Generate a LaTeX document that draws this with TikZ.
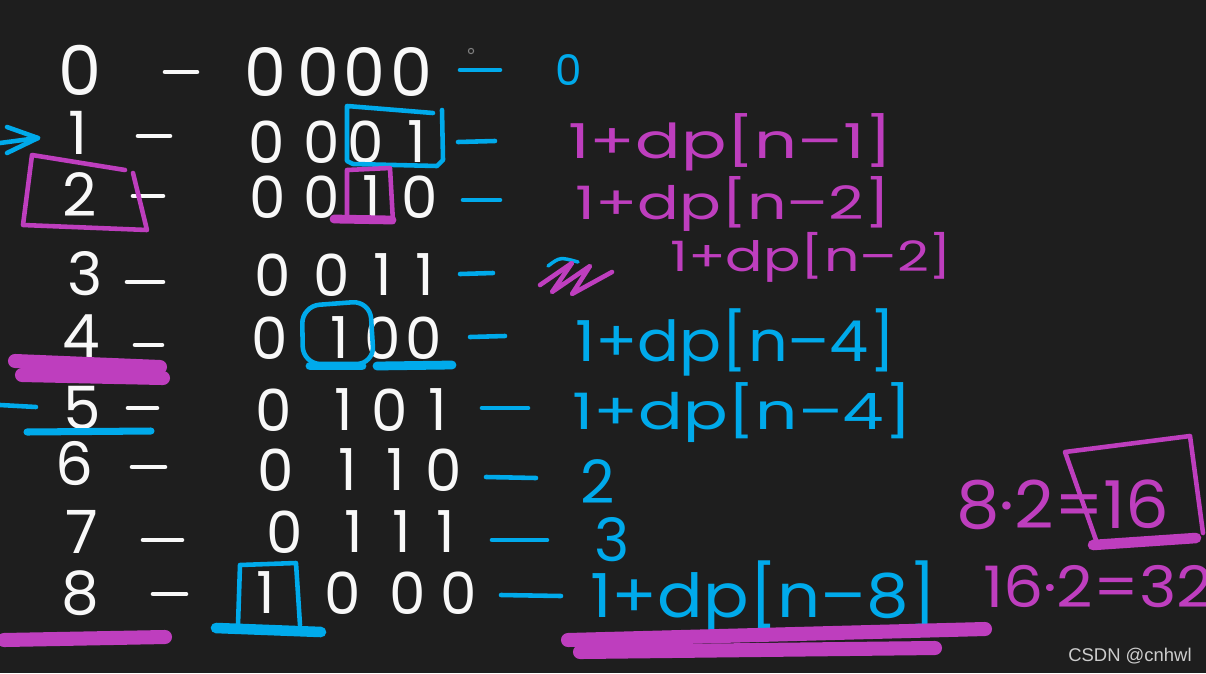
\documentclass[tikz,border=0pt]{standalone}
\usepackage{fontspec}
\setmainfont{Poppins}
\newfontfamily\wmfont{Liberation Sans}
\definecolor{board}{RGB}{30,30,30}
\definecolor{chalk}{RGB}{248,248,248}
\definecolor{bluepen}{RGB}{0,170,235}
\definecolor{pinkpen}{RGB}{190,62,190}
\definecolor{wmgray}{RGB}{205,205,205}
\newcommand{\handtext}[3]{\resizebox*{#1}{#2}{#3}}

\begin{document}
\begin{tikzpicture}[x=0.02cm, y=-0.02cm,
    digit/.style={text=chalk, inner sep=0pt, font=\fontsize{34}{34}\selectfont},
    bit/.style={text=chalk, inner sep=0pt, font=\fontsize{33}{33}\selectfont},
    sum/.style={inner sep=0pt, anchor=west},
    chalkline/.style={draw=chalk, line width=2.6pt, line cap=round},
    blueline/.style={draw=bluepen, line width=2.6pt, line cap=round, line join=round},
    pinkline/.style={draw=pinkpen, line width=2.6pt, line cap=round, line join=round},
    smear/.style={line width=8pt, line cap=round}]
    \useasboundingbox (0,0) rectangle (1206,673);
    \clip (0,0) rectangle (1206,673);
    \fill[board] (0,0) rectangle (1206,673);
    \draw[gray, line width=0.6pt] (471,51) circle (1.5pt);

    % left column: n and dashes
    \node[digit, font=\fontsize{39}{39}\selectfont] (n0) at (80,70) {0};
    \node[digit] (n1) at (78,133) {1};
    \node[digit] (n2) at (80,195) {2};
    \node[digit] (n3) at (85,274) {3};
    \node[digit] (n4) at (81,336) {4};
    \node[digit] (n5) at (82,408) {5};
    \node[digit] (n6) at (74,464) {6};
    \node[digit] (n7) at (82,532) {7};
    \node[digit] (n8) at (80,593) {8};
    \draw[chalkline] (165,72) -- (197,72);
    \draw[chalkline] (138,136) -- (170,136);
    \draw[chalkline] (133,196) -- (163,196);
    \draw[chalkline] (127,282) -- (163,282);
    \draw[chalkline] (135,345) -- (162,345);
    \draw[chalkline] (128,408) -- (157,408);
    \draw[chalkline] (132,467) -- (165,467);
    \draw[chalkline] (143,540) -- (182,540);
    \draw[chalkline] (153,594) -- (186,594);

    % binary column
    \foreach \x/\b in {265/0,318/0,364/0,411/0} \node[bit, font=\fontsize{38}{38}\selectfont] (r0-\x) at (\x,72) {\b};
    \foreach \x/\b in {267/0,322/0,366/0,417/1} \node[bit] (r1-\x) at (\x,142) {\b};
    \foreach \x/\b in {268/0,322/0,372/1,420/0} \node[bit] (r2-\x) at (\x,197) {\b};
    \foreach \x/\b in {273/0,332/0,383/1,425/1} \node[bit] (r3-\x) at (\x,275) {\b};
    \foreach \x/\b in {270/0,340/1,383/0,424/0} \node[bit] (r4-\x) at (\x,338) {\b};
    \foreach \x/\b in {274/0,344/1,390/0,438/1} \node[bit] (r5-\x) at (\x,410) {\b};
    \foreach \x/\b in {276/0,348/1,396/1,444/0} \node[bit] (r6-\x) at (\x,470) {\b};
    \foreach \x/\b in {285/0,354/1,402/1,446/1} \node[bit] (r7-\x) at (\x,532) {\b};
    \foreach \x/\b in {266/1,343/0,408/0,459/0} \node[bit] (r8-\x) at (\x,593) {\b};

    % right column: dashes and dp values
    \draw[blueline] (460,70) -- (500,70);
    \draw[blueline] (458,142) -- (495,141);
    \draw[blueline] (463,200) -- (500,200);
    \draw[blueline] (460,274) -- (493,273);
    \draw[blueline] (470,337) -- (505,336);
    \draw[blueline] (482,408) -- (528,408);
    \draw[blueline] (486,477) -- (536,478);
    \draw[blueline] (492,540) -- (547,540);
    \draw[blueline] (501,595) -- (561,596);
    \node[inner sep=0pt, text=bluepen, font=\fontsize{24}{24}\selectfont] (v0) at (569,70) {0};
    \node[sum, text=pinkpen] (v1) at (568,142) {\handtext{6.5cm}{1.15cm}{1+dp[n–1]}};
    \node[sum, text=pinkpen] (v2) at (575,204) {\handtext{6.3cm}{1.1cm}{1+dp[n–2]}};
    \node[sum, text=pinkpen] (v3) at (670,257) {\handtext{5.64cm}{1.0cm}{1+dp[n–2]}};
    \node[sum, text=bluepen] (v4) at (575,342) {\handtext{6.4cm}{1.35cm}{1+dp[n–4]}};
    \node[sum, text=bluepen] (v5) at (572,413) {\handtext{6.8cm}{1.2cm}{1+dp[n–4]}};
    \node[inner sep=0pt, text=bluepen, font=\fontsize{34}{34}\selectfont] (v6) at (598,482) {2};
    \node[inner sep=0pt, text=bluepen, font=\fontsize{34}{34}\selectfont] (v7) at (612,540) {3};
    \node[sum, text=bluepen] (v8) at (590,597) {\handtext{6.94cm}{1.45cm}{1+dp[n–8]}};

    % crossed-out attempt in row 3
    \draw[draw=bluepen, line width=2pt, line cap=round] (548,266) .. controls (560,257) .. (578,262);
    \draw[pinkline] (540,285) -- (572,263) -- (552,292) -- (590,266) -- (572,294) -- (612,272);

    % marks round the bits
    \draw[blueline] (0,143) -- (38,138);
    \draw[blueline] (7,127) -- (38,138) -- (7,153);
    \draw[blueline] (433,113) -- (347,106) -- (347,161) -- (353,164) -- (437,166) -- (443,160) -- (442,110);
    \draw[pinkline] (125,170) -- (32,155) -- (23,225) -- (147,230) -- (133,173);
    \draw[pinkline] (347,218) -- (347,170) -- (390,168) -- (393,222);
    \draw[pinkpen, line width=5pt, line cap=round] (334,219) -- (392,220);
    \draw[blueline, rounded corners=10pt] (303,364) -- (302,306) -- (370,301) -- (374,364) -- cycle;
    \draw[bluepen, line width=5pt, line cap=round] (310,366) -- (362,366);
    \draw[bluepen, line width=5pt, line cap=round] (377,366) -- (452,365);
    \draw[pinkpen, smear] (15,361) -- (160,367);
    \draw[pinkpen, smear] (22,375) -- (163,378);
    \draw[blueline] (0,405) -- (36,407);
    \draw[bluepen, line width=4pt, line cap=round] (27,432) -- (151,431);
    \draw[blueline] (238,625) -- (240,565) -- (296,563) -- (300,625);
    \draw[bluepen, line width=6pt, line cap=round] (216,628) -- (321,632);
    \draw[pinkpen, smear] (4,640) -- (165,637);
    \draw[pinkpen, smear] (568,640) -- (985,629);
    \draw[pinkpen, smear] (580,652) -- (935,648);

    % doubling on the right
    \node[inner sep=0pt, text=pinkpen] (m1) at (1063,505) {\handtext{4.26cm}{1.0cm}{8·2=16}};
    \node[inner sep=0pt, text=pinkpen] (m2) at (1098,587) {\handtext{4.6cm}{0.85cm}{16·2=32}};
    \draw[pinkline] (1097,543) -- (1065,452) -- (1190,436) -- (1203,533);
    \draw[pinkpen, line width=6pt, line cap=round] (1093,545) -- (1196,538);

    \node[text=wmgray, inner sep=0pt, font=\wmfont\fontsize{10.5}{10.5}\selectfont] (wm) at (1130,656) {CSDN @cnhwl};
  \end{tikzpicture}
\end{document}
